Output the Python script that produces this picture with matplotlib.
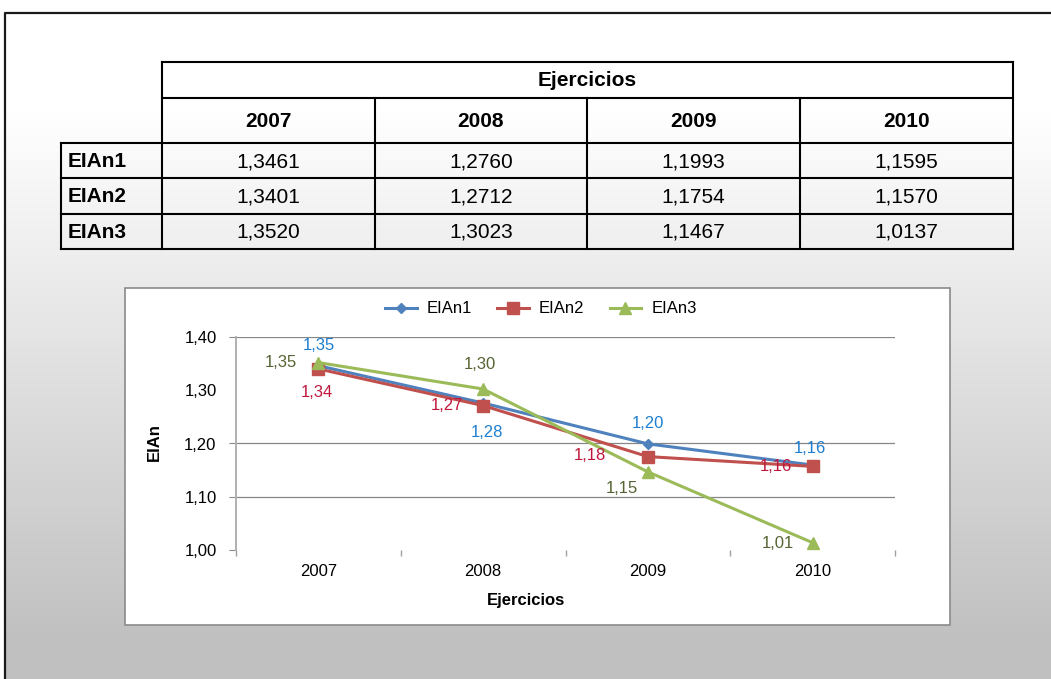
import numpy as np
import matplotlib
matplotlib.use("Agg")
import matplotlib.pyplot as plt
from matplotlib.patches import Rectangle

plt.rcParams['font.family'] = ['Liberation Sans', 'DejaVu Sans']

# data
years = ['2007', '2008', '2009', '2010']
series = ['EIAn1', 'EIAn2', 'EIAn3']
eian1 = [1.3461, 1.2760, 1.1993, 1.1595]
eian2 = [1.3401, 1.2712, 1.1754, 1.1570]
eian3 = [1.3520, 1.3023, 1.1467, 1.0137]
values = [eian1, eian2, eian3]
yticks = [1.00, 1.10, 1.20, 1.30, 1.40]

W, H = 1051, 679
fig = plt.figure(figsize=(W / 100, H / 100), dpi=100)

# canvas axes in pixel coords
bg = fig.add_axes([0, 0, 1, 1])
bg.set_xlim(0, W)
bg.set_ylim(H, 0)
bg.axis('off')

# gradient background inside the frame
yy = np.arange(H)
g = np.clip(255 - (yy - 100) / 540 * 63, 192, 255) / 255
grad = np.repeat(g[:, None], 2, axis=1)
bg.imshow(np.dstack([grad, grad, grad]), extent=(5, W, H, 13), aspect='auto',
          interpolation='bilinear', zorder=0)
bg.plot([5, 5, W], [H, 13, 13], color='#1a1a1a', lw=1.6, zorder=1)

# table
cols = [162, 375, 587, 800, 1013]
lc = 61
rows = [62, 98, 143, 178, 214, 249]
tk = dict(color='black', lw=1.5, zorder=2, solid_capstyle='projecting')
bg.plot([cols[0], cols[-1]], [rows[0], rows[0]], **tk)
bg.plot([cols[0], cols[-1]], [rows[1], rows[1]], **tk)
for r in rows[2:]:
    bg.plot([lc, cols[-1]], [r, r], **tk)
bg.plot([lc, lc], [rows[2], rows[-1]], **tk)
bg.plot([cols[0], cols[0]], [rows[0], rows[-1]], **tk)
bg.plot([cols[-1], cols[-1]], [rows[0], rows[-1]], **tk)
for c in cols[1:-1]:
    bg.plot([c, c], [rows[1], rows[-1]], **tk)

tfs = 15
bg.text((cols[0] + cols[-1]) / 2, (rows[0] + rows[1]) / 2 + 1, 'Ejercicios',
        ha='center', va='center', fontsize=tfs, fontweight='bold', zorder=3)
for j, yr in enumerate(years):
    bg.text((cols[j] + cols[j + 1]) / 2, (rows[1] + rows[2]) / 2 + 1, yr,
            ha='center', va='center', fontsize=tfs, fontweight='bold', zorder=3)
for i, (name, vals) in enumerate(zip(series, values)):
    yc = (rows[2 + i] + rows[3 + i]) / 2 + 1
    bg.text(lc + 7, yc, name, ha='left', va='center', fontsize=tfs,
            fontweight='bold', zorder=3)
    for j, v in enumerate(vals):
        bg.text((cols[j] + cols[j + 1]) / 2, yc, f'{v:.4f}'.replace('.', ','),
                ha='center', va='center', fontsize=tfs, zorder=3)

# chart box
bg.add_patch(Rectangle((125, 288), 825, 337, facecolor='white',
                       edgecolor='#8a8a8a', lw=1.2, zorder=2))

# chart axes
ax = fig.add_axes([236 / W, 1 - 550 / H, 659 / W, 213 / H])
ax.set_facecolor('none')
x = np.arange(len(years))
colors = ['#4F81BD', '#C0504D', '#9BBB59']
markers = ['D', 's', '^']
msizes = [5, 8, 8.5]
lab_colors = ['#1E7FD0', '#C0183C', '#556432']
offsets = [
    [(0, 20), (4, -29), (0, 20), (-3, 17)],
    [(-2, -24), (-36, 0), (-58, 1), (-37, 0)],
    [(-37, 0), (-3, 25), (-26, -17), (-35, -1)],
]
cfs = 12
handles = []
for k in range(3):
    h, = ax.plot(x, values[k], color=colors[k], lw=2.2, marker=markers[k],
                 ms=msizes[k], mec=colors[k], mfc=colors[k], zorder=3,
                 clip_on=False, label=series[k])
    handles.append(h)
    for j, v in enumerate(values[k]):
        ax.annotate(f'{v:.2f}'.replace('.', ','), (x[j], v),
                    xytext=offsets[k][j], textcoords='offset pixels',
                    ha='center', va='center', fontsize=cfs,
                    color=lab_colors[k], zorder=4)

ax.set_xlim(-0.5, len(years) - 0.5)
ax.set_ylim(yticks[0], yticks[-1])
ax.set_yticks(yticks)
ax.set_yticklabels([f'{t:.2f}'.replace('.', ',') for t in yticks])
ax.set_xticks(x)
ax.set_xticklabels(years)
ax.set_xticks(np.arange(-0.5, len(years)), minor=True)
ax.tick_params(axis='x', which='major', length=0, pad=10, labelsize=cfs)
ax.tick_params(axis='x', which='minor', length=4, width=1, color='#a0a0a0',
               direction='out')
ax.tick_params(axis='y', length=5, width=0.8, color='#8a8a8a', pad=9,
               labelsize=cfs)
ax.yaxis.grid(True, color='#878787', lw=0.9)
ax.set_axisbelow(True)
for i, t in enumerate(yticks):
    if t in (1.00, 1.30):
        ax.yaxis.get_gridlines()[i].set_visible(False)
    if t == 1.30:
        ax.yaxis.get_major_ticks()[i].tick1line.set_visible(False)
for s in ['top', 'right', 'bottom']:
    ax.spines[s].set_visible(False)
ax.spines['left'].set_color('#b0b0b0')
ax.spines['left'].set_linewidth(1.4)

fig.text(526 / W, 1 - 601 / H, 'Ejercicios', ha='center', va='center',
         fontsize=cfs, fontweight='bold')
fig.text(154 / W, 1 - 442 / H, 'EIAn', ha='center', va='center',
         fontsize=cfs, fontweight='bold', rotation=90)

fig.legend(handles=handles, loc='center', bbox_to_anchor=(541 / W, 1 - 309 / H),
           ncol=3, frameon=False, fontsize=cfs, handlelength=1.9,
           handletextpad=0.6, columnspacing=1.5)

fig.savefig('out.png', dpi=100)
